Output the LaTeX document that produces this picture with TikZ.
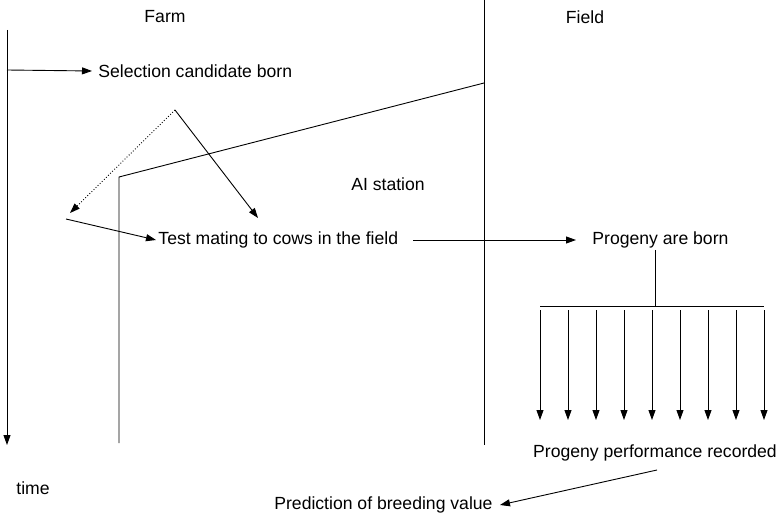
\documentclass[tikz,border=0pt]{standalone}
\usepackage{fontspec}
\setmainfont{Liberation Sans}
\usetikzlibrary{arrows.meta}
\tikzset{every path/.style={black,line width=0.9pt}, arr/.style={-{Triangle[length=10pt,width=7pt]}}, lbl/.style={inner sep=0pt, font=\fontsize{17.6}{21}\selectfont}}

\begin{document}
\begin{tikzpicture}[x=1pt,y=-1pt]
   \useasboundingbox (0,0) rectangle (780,516);
   \begin{scope}
    \node[lbl] (farm) at (165,17) {Farm};
    \node[lbl] (field) at (585,17) {Field};
    \node[lbl] (aistation) at (388,184) {AI station};
    \node[lbl,anchor=west] (born) at (98,71) {Selection candidate born};
    \node[lbl,anchor=west] (mating) at (158,240) {Test mating to cows in the field};
    \node[lbl,anchor=west] (progeny) at (592,240) {Progeny are born};
    \node[lbl] (recorded) at (655,453) {Progeny performance recorded};
    \node[lbl,anchor=east] (prediction) at (493,505) {Prediction of breeding value};
    \node[lbl] (time) at (33,488) {time};
   \end{scope}
   \begin{scope}
    \coordinate (timetop) at (7,30);
    \coordinate (timeend) at (7,445);
    \coordinate (timeborn) at (7,70);
    \coordinate (fork) at (175,110);
    \coordinate (dotend) at (70,213);
    \coordinate (solidend) at (258,218);
    \coordinate (matestart) at (66,219);
    \coordinate (matingout) at (413,240);
    \coordinate (progenyin) at (576,240);
    \coordinate (fieldtop) at (484,0);
    \coordinate (fieldbot) at (484,445);
    \coordinate (aibot) at (119,443);
    \coordinate (aicorner) at (119,177);
    \coordinate (aiend) at (484,83);
    \coordinate (busstem) at (655,250);
    \coordinate (bus) at (655,306);
    \coordinate (recout) at (657,470);
    \coordinate (predin) at (500,505);
   \end{scope}
   \draw[arr] (timetop) -- (timeend);
   \draw (fieldtop) -- (fieldbot);
   \draw (aibot) -- (aicorner) -- (aiend);
   \draw[arr] (timeborn) -- ([xshift=-6pt]born.west);
   \draw[arr,dotted] (fork) -- (dotend);
   \draw[arr] (fork) -- (solidend);
   \draw[arr] (matestart) -- ([xshift=-2pt]mating.west);
   \draw[arr] (matingout) -- (progenyin);
   \draw (busstem) -- (bus);
   \draw (540,306) -- (764,306);
   \foreach \i in {0,...,8}
    \draw[arr] (540+28*\i,310) -- (540+28*\i,420);
   \draw[arr] (recout) -- (predin);
\end{tikzpicture}
\end{document}
